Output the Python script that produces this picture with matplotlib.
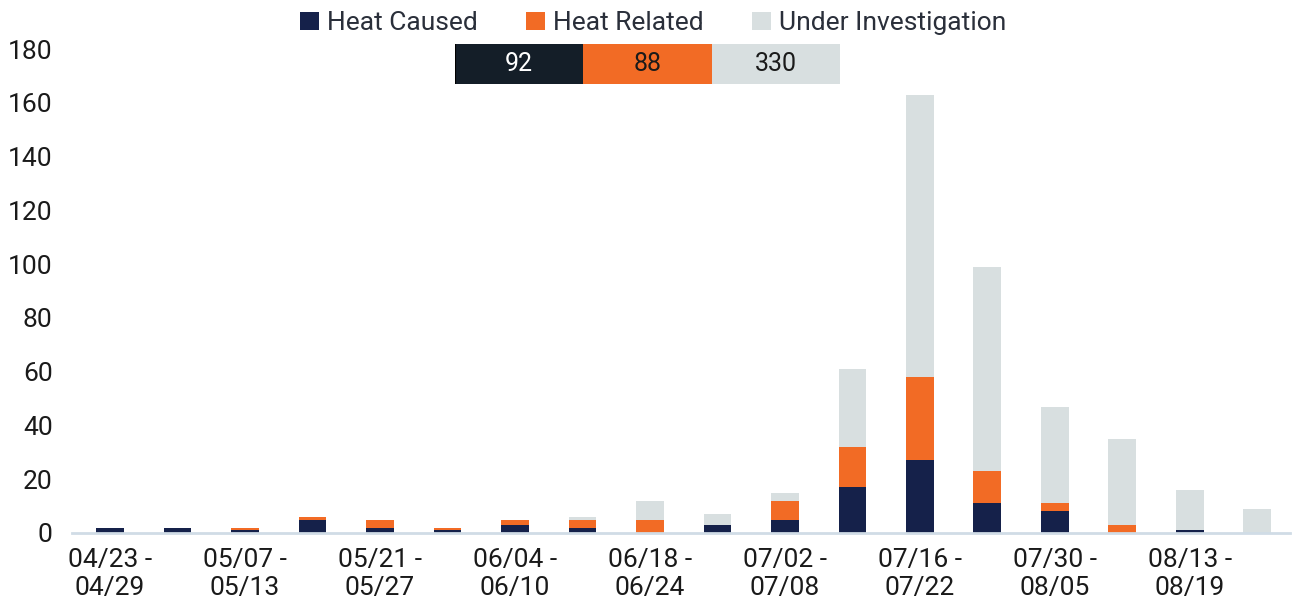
import matplotlib.pyplot as plt
import numpy as np

plt.rcParams['font.family'] = ['Roboto', 'DejaVu Sans']

# Weekly counts
weeks = ['04/23 -\n04/29', '04/30 -\n05/06', '05/07 -\n05/13', '05/14 -\n05/20',
         '05/21 -\n05/27', '05/28 -\n06/03', '06/04 -\n06/10', '06/11 -\n06/17',
         '06/18 -\n06/24', '06/25 -\n07/01', '07/02 -\n07/08', '07/09 -\n07/15',
         '07/16 -\n07/22', '07/23 -\n07/29', '07/30 -\n08/05', '08/06 -\n08/12',
         '08/13 -\n08/19', '08/20 -\n08/26']
heat_caused = [2, 2, 1, 5, 2, 1, 3, 2, 0, 3, 5, 17, 27, 11, 8, 0, 1, 0]
heat_related = [0, 0, 1, 1, 3, 1, 2, 3, 5, 0, 7, 15, 31, 12, 3, 3, 0, 0]
under_invest = [0, 0, 0, 0, 0, 0, 0, 1, 7, 4, 3, 29, 105, 76, 36, 32, 15, 9]

# Totals shown in the summary strip
summary_labels = ['Heat Caused', 'Heat Related', 'Under Investigation']
summary_totals = [92, 88, 330]

c_hc = '#15214a'
c_hr = '#f26b25'
c_ui = '#d8dfe0'

fig = plt.figure(figsize=(12.96, 6.14), dpi=100)
ax = fig.add_axes([0.0556, 0.132, 0.940, 0.788])

x = np.arange(len(weeks))
hc = np.array(heat_caused)
hr = np.array(heat_related)
ui = np.array(under_invest)
w = 0.41
b1 = ax.bar(x, hc, w, color=c_hc, label='Heat Caused')
b2 = ax.bar(x, hr, w, bottom=hc, color=c_hr, label='Heat Related')
b3 = ax.bar(x, ui, w, bottom=hc + hr, color=c_ui, label='Under Investigation')

ax.set_xlim(-0.563, 17.49)
ax.set_ylim(0, 180)
ax.set_yticks(range(0, 181, 20))
ax.set_xticks(x[::2])
ax.set_xticklabels(weeks[::2], linespacing=1.2)
ax.tick_params(axis='both', length=0, labelsize=19, colors='#1a1a1a')
ax.tick_params(axis='x', pad=11)
ax.tick_params(axis='y', pad=14)
for s in ['top', 'right', 'left']:
    ax.spines[s].set_visible(False)
ax.spines['bottom'].set_color('#d0dce6')
ax.spines['bottom'].set_linewidth(2)

fig.legend(handles=[b1, b2, b3], loc='upper center', bbox_to_anchor=(0.504, 1.02),
           ncol=3, frameon=False, fontsize=19, handlelength=0.7, handleheight=0.7,
           handletextpad=0.3, columnspacing=1.85, labelcolor='#2a2f3a')

# Summary strip with equal-width cells
sax = fig.add_axes([0.351, 0.863, 0.297, 0.065])
strip_colors = ['#141e28', c_hr, c_ui]
text_colors = ['white', '#1a1a1a', '#1a1a1a']
lefts = np.arange(len(summary_totals))
sax.barh(0, [1] * len(summary_totals), 1.0, left=lefts, color=strip_colors)
for i, v in enumerate(summary_totals):
    sax.text(lefts[i] + 0.5, 0, str(v), ha='center', va='center',
             fontsize=18, color=text_colors[i])
sax.set_xlim(0, 3)
sax.set_ylim(-0.5, 0.5)
sax.axis('off')
sax.axvline(0, color='black', lw=1.5)

fig.savefig('out.png', dpi=100)
